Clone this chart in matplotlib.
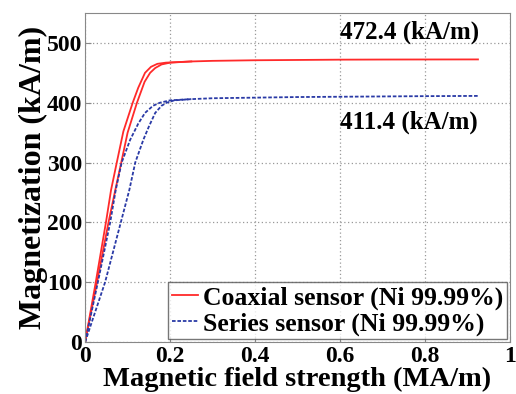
import matplotlib
matplotlib.use('Agg')
import matplotlib.pyplot as plt

plt.rcParams['font.family'] = 'Liberation Serif'
plt.rcParams['font.weight'] = 'bold'

# coaxial sensor, two branches of the loop
coax_h_up = [0, 0.028, 0.055, 0.071, 0.085, 0.10, 0.122, 0.14, 0.153, 0.165, 0.18, 0.2,
             0.25, 0.3, 0.4, 0.5, 0.6, 0.7, 0.8, 0.925]
coax_m_up = [0, 100, 200, 254, 300, 350, 400, 435, 450, 458, 464, 467,
             469, 470, 471, 471.5, 472, 472.2, 472.3, 472.4]
coax_h_dn = [0, 0.025, 0.049, 0.061, 0.0745, 0.09, 0.112, 0.125, 0.141, 0.155, 0.17, 0.19, 0.25]
coax_m_dn = [0, 100, 200, 254, 300, 352, 400, 425, 450, 460, 465, 467, 469]

# series sensor
ser_h_up = [0, 0.047, 0.084, 0.104, 0.118, 0.137, 0.150, 0.165, 0.18, 0.192, 0.21,
            0.25, 0.3, 0.4, 0.5, 0.6, 0.7, 0.8, 0.925]
ser_m_up = [0, 100, 200, 254, 300, 338, 360, 383, 395, 400, 404,
            406, 407.5, 408.5, 409.5, 410, 410.5, 411, 411.4]
ser_h_dn = [0, 0.03, 0.059, 0.072, 0.086, 0.106, 0.125, 0.141, 0.16, 0.176, 0.2, 0.25]
ser_m_dn = [0, 100, 200, 254, 300, 338, 365, 383, 395, 400, 404, 406]

xticks = [0, 0.2, 0.4, 0.6, 0.8, 1]
xlabels = ['0', '0.2', '0.4', '0.6', '0.8', '1']
yticks = [0, 100, 200, 300, 400, 500]

red = '#ff2a2a'
blue = '#2a3aa6'

fig = plt.figure(figsize=(5.16, 3.94), dpi=100)
ax = fig.add_axes([0.165, 0.132, 0.823, 0.835])

ax.plot(coax_h_up, coax_m_up, color=red, lw=1.3, label='Coaxial sensor (Ni 99.99%)')
ax.plot(coax_h_dn, coax_m_dn, color=red, lw=1.3)
ax.plot(ser_h_up, ser_m_up, color=blue, lw=1.3, ls=(0, (2, 1)), label='Series sensor (Ni 99.99%)')
ax.plot(ser_h_dn, ser_m_dn, color=blue, lw=1.3, ls=(0, (2, 1)))

ax.set_xlim(0, 1)
ax.set_ylim(0, 550)
ax.set_xticks(xticks)
ax.set_xticklabels(xlabels, fontweight='bold', fontsize=17)
ax.set_yticks(yticks)
ax.set_yticklabels([str(v) for v in yticks], fontweight='bold', fontsize=17)
ax.tick_params(direction='in', length=4, color='#888888')
ax.tick_params(axis='x', pad=3)
ax.tick_params(axis='y', pad=2)
ax.grid(True, ls=(0, (1, 2)), color='#999999', lw=0.9)
for s in ax.spines.values():
    s.set_color('#888888')

ax.set_xlabel('Magnetic field strength (MA/m)', fontsize=20.5, fontweight='bold', labelpad=0)
ax.set_ylabel('Magnetization (kA/m)', fontsize=23, fontweight='bold', labelpad=-1)

ax.text(0.6, 517, '472.4 (kA/m)', fontsize=18, fontweight='bold', va='center')
ax.text(0.6, 368, '411.4 (kA/m)', fontsize=18, fontweight='bold', va='center')

leg = ax.legend(loc='lower right', prop={'size': 18.5, 'weight': 'bold'}, handlelength=1.0,
                handletextpad=0.2, borderpad=0.15, labelspacing=0.1, borderaxespad=0.1,
                fancybox=False)
leg.get_frame().set_edgecolor('#555555')
leg.get_frame().set_linewidth(1.0)

fig.savefig('out.png', dpi=100)
